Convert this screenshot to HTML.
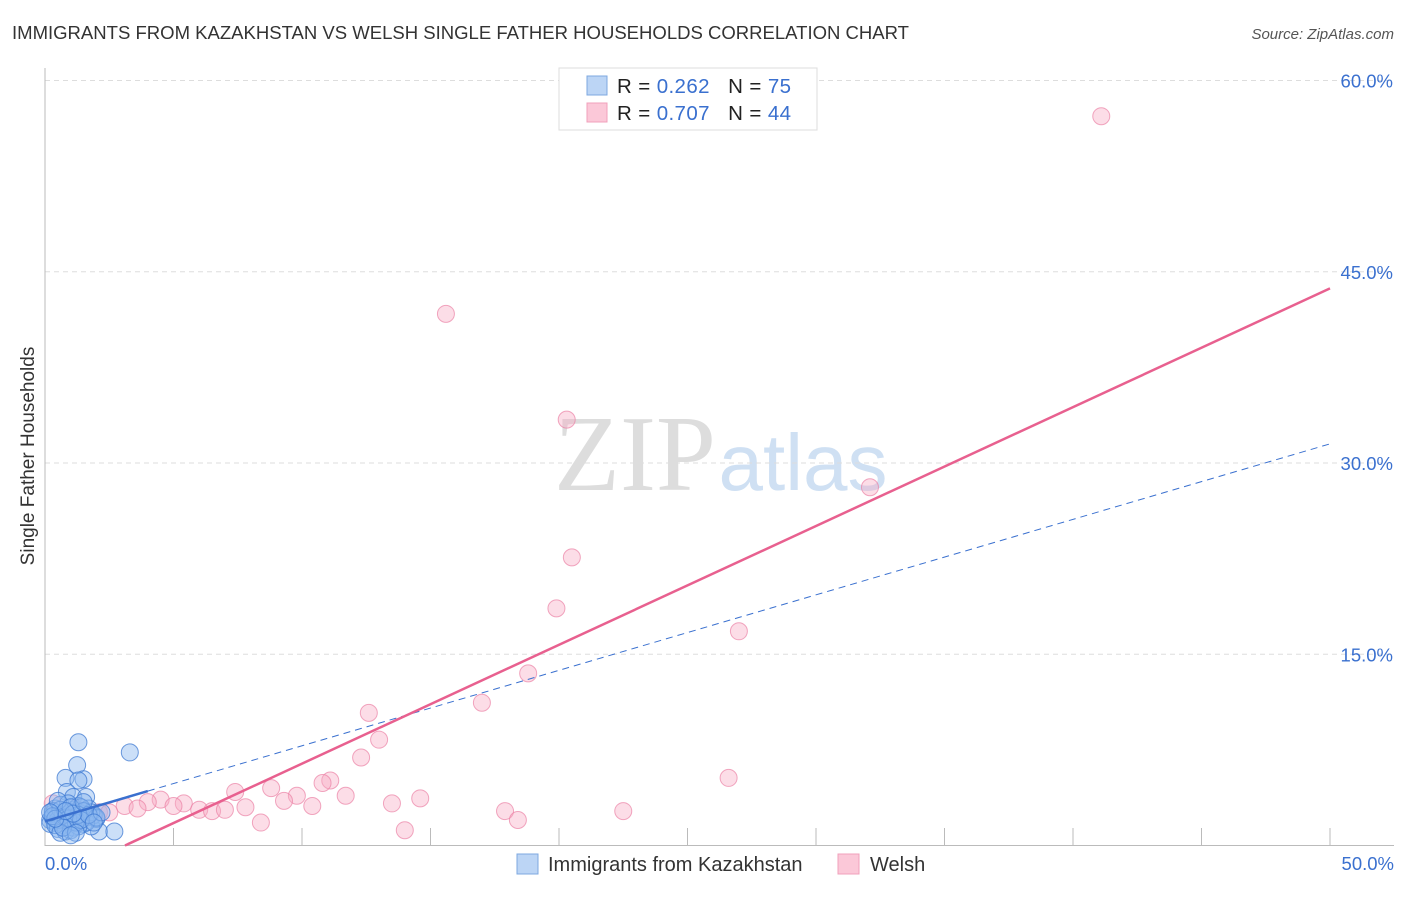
<!DOCTYPE html>
<html><head><meta charset="utf-8"><style>
body{margin:0;background:#fff;font-family:"Liberation Sans",sans-serif;}
</style></head><body>
<svg width="1406" height="892" xmlns="http://www.w3.org/2000/svg" id="chart">
<text x="12" y="39" font-size="18.2" fill="#333" textLength="897" lengthAdjust="spacingAndGlyphs">IMMIGRANTS FROM KAZAKHSTAN VS WELSH SINGLE FATHER HOUSEHOLDS CORRELATION CHART</text>
<text x="1394" y="39" font-size="15" fill="#555" font-style="italic" text-anchor="end">Source: ZipAtlas.com</text>
<text transform="translate(34,456) rotate(-90)" font-size="19" fill="#333" text-anchor="middle">Single Father Households</text>
<g>
<text x="635" y="490" font-size="108" fill="#ddd" font-family="Liberation Serif,serif" text-anchor="middle">ZIP</text>
<text x="803" y="490" font-size="80" fill="#cfe0f3" text-anchor="middle">atlas</text>
</g>
<g id="grid"></g><g id="axes"></g><g id="marks"></g><g id="trends"></g>
<g>
<rect x="559" y="68" width="258" height="62" fill="#fff" stroke="#ddd"/>
<rect x="587" y="76" width="20" height="19" fill="#bcd5f5" stroke="#7ea8e0"/>
<rect x="587" y="103" width="20" height="19" fill="#fbc8d8" stroke="#f0a0bb"/>
<text x="617" y="93" font-size="20.5" fill="#222" textLength="174" lengthAdjust="spacing">R = <tspan fill="#3a70cf">0.262</tspan>&#160;&#160;&#160;N = <tspan fill="#3a70cf">75</tspan></text>
<text x="617" y="120" font-size="20.5" fill="#222" textLength="174" lengthAdjust="spacing">R = <tspan fill="#3a70cf">0.707</tspan>&#160;&#160;&#160;N = <tspan fill="#3a70cf">44</tspan></text>
</g>
<g>
<rect x="517" y="854" width="21" height="20" fill="#bcd5f5" stroke="#7ea8e0"/>
<text x="548" y="871" font-size="20" fill="#333">Immigrants from Kazakhstan</text>
<rect x="838" y="854" width="21" height="20" fill="#fbc8d8" stroke="#f0a0bb"/>
<text x="870" y="871" font-size="20" fill="#333">Welsh</text>
</g>
</svg>
<script>
const yTicks=[15,30,45,60];
const yTickLabels=["15.0%","30.0%","45.0%","60.0%"];
const xTickLabels=["0.0%","50.0%"];
const welshX=[41.1,15.6,20.3,32.1,20.5,19.9,27.0,18.8,17.0,12.6,13.0,12.3,26.6,11.1,10.8,8.8,7.4,11.7,9.8,14.6,13.5,9.3,10.4,4.5,4.0,5.4,5.0,7.8,3.1,3.6,6.0,6.5,7.0,2.1,2.5,17.9,22.5,18.4,8.4,14.0,0.3,0.6,1.2,1.7];
const welshY=[57.2,41.7,33.4,28.1,22.6,18.6,16.8,13.5,11.2,10.4,8.3,6.9,5.3,5.1,4.9,4.5,4.2,3.9,3.9,3.7,3.3,3.5,3.1,3.6,3.4,3.3,3.1,3.0,3.1,2.9,2.8,2.7,2.8,2.6,2.6,2.7,2.7,2.0,1.8,1.2,3.3,2.4,2.9,2.3];
const kazX=[1.3,3.3,1.25,0.8,1.5,1.3,0.85,1.1,1.6,2.1,2.7,0.2,0.3,0.4,0.5,0.6,0.7,0.8,0.9,1.0,1.1,1.2,1.3,1.4,1.5,1.6,1.7,1.8,1.9,2.0,0.2,0.3,0.4,0.5,0.6,0.7,0.8,0.9,1.0,1.1,1.2,1.4,1.6,1.8,2.0,0.3,0.5,0.7,0.9,1.1,1.3,1.5,0.4,0.6,0.8,1.0,1.2,0.5,0.9,1.3,0.6,1.0,1.4,1.7,2.2,0.3,0.7,1.1,1.5,0.4,0.8,1.2,0.2,1.9,1.0];
const kazY=[8.1,7.3,6.3,5.3,5.2,5.1,4.2,3.8,3.8,1.1,1.1,2.0,2.2,1.8,2.4,2.1,1.6,2.6,2.3,1.9,2.8,2.0,3.1,2.5,1.7,2.2,2.9,1.5,2.4,2.1,1.7,2.5,2.9,1.3,3.2,2.0,1.1,1.9,2.6,1.4,2.3,3.0,1.8,2.6,2.2,2.7,2.0,2.4,3.3,1.9,1.5,2.7,1.6,2.8,2.2,1.2,1.8,3.5,2.1,2.4,1.0,3.0,2.0,2.4,2.6,2.3,1.4,2.5,3.4,2.1,2.7,1.0,2.6,1.8,0.8];
const kazTrend=[1.9,0.592]; // intercept, slope
const welshTrend=[-2.9,0.932];
const X=v=>45+v/50*1285, Y=v=>845.5-v*12.75;
const NS="http://www.w3.org/2000/svg";
function mk(tag,attrs,parent){const e=document.createElementNS(NS,tag);for(const k in attrs)e.setAttribute(k,attrs[k]);document.getElementById(parent).appendChild(e);return e;}
yTicks.forEach((t,i)=>{
 const l=mk('line',{x1:45,x2:1394,y1:Y(t),y2:Y(t),stroke:'#ddd','stroke-dasharray':'5,4'},'grid');
 
 
 const tx=mk('text',{x:1393,y:Y(t)+7,'font-size':18.5,fill:'#3a70cf','text-anchor':'end'},'axes');tx.textContent=yTickLabels[i];
 
 
});
const ax=mk('path',{d:`M45,68V845.5H1394`,stroke:'#bbb',fill:'none'},'axes');


for(let v=5;v<=50;v+=5){const t=mk('line',{x1:X(v),x2:X(v),y1:845,y2:828,stroke:'#bbb'},'axes');
 
 }
[[0,'start',45],[50,'end',1394]].forEach((a,i)=>{const t=mk('text',{x:a[2],y:870,'font-size':18.5,fill:'#3a70cf','text-anchor':a[1]},'axes');t.textContent=xTickLabels[i];
 
 });
welshX.forEach((x,i)=>{const c=mk('circle',{cx:X(x),cy:Y(welshY[i]),r:8.5,fill:'rgba(248,170,195,0.4)',stroke:'rgba(235,130,165,0.7)'},'marks');
 
 });
kazX.forEach((x,i)=>{const c=mk('circle',{cx:X(x),cy:Y(kazY[i]),r:8.5,fill:'rgba(140,185,240,0.45)',stroke:'rgba(60,120,210,0.75)'},'marks');
 
 });
let l=mk('line',{x1:X(0),y1:Y(kazTrend[0]),x2:X(4),y2:Y(kazTrend[0]+4*kazTrend[1]),stroke:'#3a70cf','stroke-width':2.5},'trends');


l=mk('line',{x1:X(4),y1:Y(kazTrend[0]+4*kazTrend[1]),x2:X(50),y2:Y(kazTrend[0]+50*kazTrend[1]),stroke:'#3a70cf','stroke-width':1,'stroke-dasharray':'7,5'},'trends');


const x0=-welshTrend[0]/welshTrend[1];
l=mk('line',{x1:X(x0),y1:Y(0),x2:X(50),y2:Y(welshTrend[0]+50*welshTrend[1]),stroke:'#e8608f','stroke-width':2.5},'trends');


</script>
</body></html>
